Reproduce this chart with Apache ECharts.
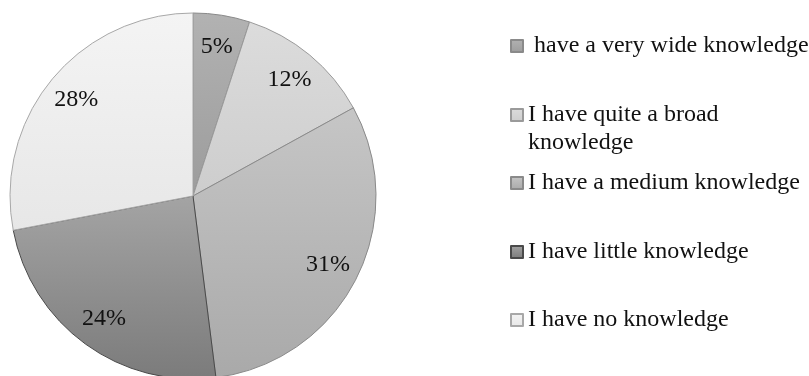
<!DOCTYPE html>
<html>
<head>
<meta charset="utf-8">
<script src="https://cdn.jsdelivr.net/npm/echarts@6/dist/echarts.min.js"></script>
<style>
html,body{margin:0;padding:0;background:#fff;}
#chart{width:809px;height:376px;}
</style>
</head>
<body>
<div id="chart"></div>
<script>
const categories = [
  ' have a very wide knowledge',
  'I have quite a broad\nknowledge',
  'I have a medium knowledge',
  'I have little knowledge',
  'I have no knowledge'
];
const values = [5, 12, 31, 24, 28];
const topColors = ['#b2b2b2', '#dcdcdc', '#c6c6c6', '#a4a4a4', '#f4f4f4'];
const bottomColors = ['#9c9c9c', '#cdcdcd', '#a9a9a9', '#7b7b7b', '#e7e7e7'];
const borderColors = ['#8a8a8a', '#9a9a9a', '#8a8a8a', '#4a4a4a', '#a8a8a8'];

const chart = echarts.init(document.getElementById('chart'), null, {renderer: 'canvas'});
const FONT = '"Liberation Serif", "Times New Roman", serif';

const mainData = categories.map((n, i) => ({
  name: n,
  value: values[i],
  itemStyle: {
    color: new echarts.graphic.LinearGradient(0, 0, 0, 1, [
      {offset: 0, color: topColors[i]},
      {offset: 1, color: bottomColors[i]}
    ]),
    borderColor: borderColors[i],
    borderWidth: 1
  }
}));
const labelData = categories.map((n, i) => ({name: n, value: values[i]}));

const legendTops = [32, 73, 169, 238, 306];
const legends = categories.map((n, i) => ({
  data: [n],
  orient: 'vertical',
  left: 510,
  top: legendTops[i],
  padding: 0,
  icon: 'rect',
  itemWidth: 12,
  itemHeight: 12,
  selectedMode: false,
  formatter: name => (name.indexOf('\n') >= 0 ? '\n' + name : name),
  textStyle: {
    fontFamily: FONT,
    fontSize: 24,
    lineHeight: 28,
    color: '#111'
  }
}));

chart.setOption({
  animation: false,
  backgroundColor: '#ffffff',
  legend: legends,
  series: [
    {
      type: 'pie',
      center: [193, 196],
      radius: [0, 183],
      startAngle: 90,
      clockwise: true,
      label: {show: false},
      labelLine: {show: false},
      emphasis: {disabled: true},
      data: mainData
    },
    {
      type: 'pie',
      center: [193, 196],
      radius: [114, 183],
      startAngle: 90,
      clockwise: true,
      silent: true,
      itemStyle: {color: 'rgba(0,0,0,0)', borderWidth: 0},
      label: {
        show: true,
        position: 'inside',
        formatter: '{c}%',
        fontFamily: FONT,
        fontSize: 24,
        color: '#111'
      },
      labelLine: {show: false},
      emphasis: {disabled: true},
      data: labelData
    }
  ]
});
</script>
</body>
</html>
